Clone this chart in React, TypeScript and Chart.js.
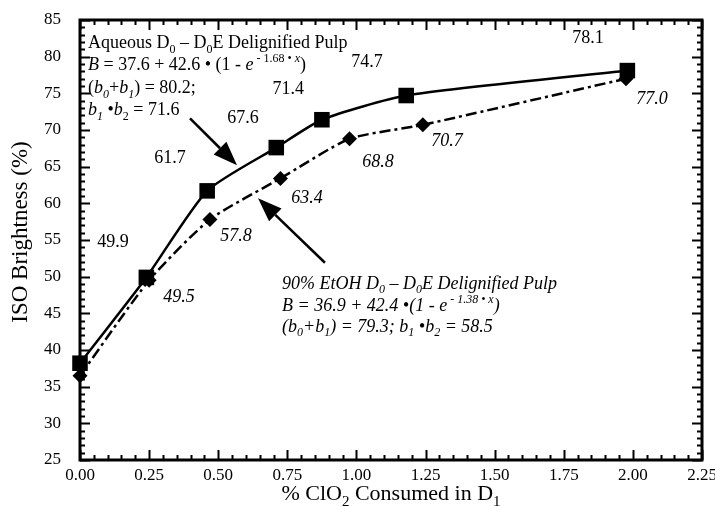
import React, { useEffect, useRef } from 'react';
import { Chart, registerables } from 'chart.js';

Chart.register(...registerables);

// ---------- data ----------
const aqueousX = [0, 0.24, 0.46, 0.71, 0.875, 1.18, 1.98];
const aqueousY = [38.2, 49.9, 61.7, 67.6, 71.4, 74.7, 78.1];
const etohX = [0, 0.25, 0.47, 0.725, 0.975, 1.24, 1.975];
const etohY = [36.5, 49.5, 57.8, 63.4, 68.8, 70.7, 77.0];

const xTickValues = [0, 0.25, 0.5, 0.75, 1.0, 1.25, 1.5, 1.75, 2.0, 2.25];
const yTickValues = [25, 30, 35, 40, 45, 50, 55, 60, 65, 70, 75, 80, 85];

// value-label anchor positions (data coords) for points 1..6
const aqueousLabelX = [0.119, 0.326, 0.59, 0.753, 1.038, 1.838];
const aqueousLabelY = [54.7, 66.2, 71.6, 75.5, 79.3, 82.5];
const etohLabelX = [0.358, 0.564, 0.821, 1.078, 1.328, 2.069];
const etohLabelY = [47.2, 55.5, 60.7, 65.6, 68.4, 74.2];

const FONT = '"Liberation Serif", "Times New Roman", serif';

type Seg = [string, string]; // [text, flags]  i=italic s=subscript u=superscript

const block1: Seg[][] = [
  [['Aqueous D', ''], ['0', 's'], [' – D', ''], ['0', 's'], ['E Delignified Pulp', '']],
  [['B', 'i'], [' = 37.6 + 42.6 • (1 - ', ''], ['e', 'i'], [' - 1.68 • ', 'u'], ['x', 'iu'], [')', '']],
  [['(', ''], ['b', 'i'], ['0', 'is'], ['+', ''], ['b', 'i'], ['1', 'is'], [') = 80.2;', '']],
  [['b', 'i'], ['1', 'is'], [' •', ''], ['b', 'i'], ['2', 's'], [' = 71.6', '']],
];
const block2: Seg[][] = [
  [['90% EtOH D', 'i'], ['0', 'is'], [' – D', 'i'], ['0', 'is'], ['E Delignified Pulp', 'i']],
  [['B = 36.9 + 42.4 •(1 - e', 'i'], [' - 1.38 • x', 'iu'], [')', 'i']],
  [['(b', 'i'], ['0', 'is'], ['+b', 'i'], ['1', 'is'], [') = 79.3; b', 'i'], ['1', 'is'], [' •b', 'i'], ['2', 'is'], [' = 58.5', 'i']],
];
const block1Pos = { x: 0.029, y: 81.18, lines: [0, 22, 45, 67] };
const block2Pos = { x: 0.731, y: 48.32, lines: [0, 22, 43] };

// arrows [fromX, fromY, toX, toY] in data coords
const arrows = [
  [0.398, 71.6, 0.568, 65.2],
  [0.886, 51.9, 0.644, 60.7],
];

function segFont(flags: string, size: number) {
  const sz = flags.includes('s') || flags.includes('u') ? Math.round(size * 0.68) : size;
  return `${flags.includes('i') ? 'italic ' : ''}${sz}px ${FONT}`;
}

function richWidth(ctx: CanvasRenderingContext2D, segs: Seg[], size: number) {
  let w = 0;
  for (const [t, f] of segs) {
    ctx.font = segFont(f, size);
    w += ctx.measureText(t).width;
  }
  return w;
}

function drawRich(ctx: CanvasRenderingContext2D, segs: Seg[], x: number, y: number, size: number) {
  let cx = x;
  ctx.textAlign = 'left';
  ctx.textBaseline = 'alphabetic';
  for (const [t, f] of segs) {
    ctx.font = segFont(f, size);
    let dy = 0;
    if (f.includes('s')) dy = size * 0.25;
    if (f.includes('u')) dy = -size * 0.42;
    ctx.fillText(t, cx, y + dy);
    cx += ctx.measureText(t).width;
  }
}

const decorPlugin = {
  id: 'decor',
  afterDraw(chart: any) {
    const { ctx, chartArea: a, scales } = chart;
    const xs = scales.x;
    const ys = scales.y;
    ctx.save();
    ctx.fillStyle = '#000';
    ctx.strokeStyle = '#000';

    // frame
    ctx.lineWidth = 3;
    ctx.strokeRect(a.left, a.top, a.right - a.left, a.bottom - a.top);

    // inward ticks
    ctx.lineWidth = 2;
    ctx.beginPath();
    for (let i = 0; i <= 45; i++) {
      const v = i * 0.05;
      const px = Math.round(xs.getPixelForValue(v)) + 0.5;
      const len = i % 5 === 0 ? 10 : 5;
      ctx.moveTo(px, a.bottom);
      ctx.lineTo(px, a.bottom - len);
      ctx.moveTo(px, a.top);
      ctx.lineTo(px, a.top + len);
    }
    for (let v = 25; v <= 85; v++) {
      const py = Math.round(ys.getPixelForValue(v)) + 0.5;
      const len = v % 5 === 0 ? 10 : 5;
      ctx.moveTo(a.left, py);
      ctx.lineTo(a.left + len, py);
      ctx.moveTo(a.right, py);
      ctx.lineTo(a.right - len, py);
    }
    ctx.stroke();

    // arrows
    ctx.lineWidth = 2.5;
    for (const [x1, y1, x2, y2] of arrows) {
      const p1x = xs.getPixelForValue(x1), p1y = ys.getPixelForValue(y1);
      const p2x = xs.getPixelForValue(x2), p2y = ys.getPixelForValue(y2);
      const ang = Math.atan2(p2y - p1y, p2x - p1x);
      const hl = 24, hw = 9;
      const bx = p2x - hl * Math.cos(ang), by = p2y - hl * Math.sin(ang);
      ctx.beginPath();
      ctx.moveTo(p1x, p1y);
      ctx.lineTo(bx, by);
      ctx.stroke();
      ctx.beginPath();
      ctx.moveTo(p2x, p2y);
      ctx.lineTo(bx + hw * Math.sin(ang), by - hw * Math.cos(ang));
      ctx.lineTo(bx - hw * Math.sin(ang), by + hw * Math.cos(ang));
      ctx.closePath();
      ctx.fill();
    }

    // equation blocks
    const size = 18;
    const b1x = xs.getPixelForValue(block1Pos.x), b1y = ys.getPixelForValue(block1Pos.y);
    block1.forEach((line, i) => drawRich(ctx, line, b1x, b1y + block1Pos.lines[i], size));
    const b2x = xs.getPixelForValue(block2Pos.x), b2y = ys.getPixelForValue(block2Pos.y);
    block2.forEach((line, i) => drawRich(ctx, line, b2x, b2y + block2Pos.lines[i], size));

    // value labels
    ctx.textAlign = 'center';
    ctx.textBaseline = 'middle';
    ctx.font = `${size}px ${FONT}`;
    aqueousLabelX.forEach((lx, i) => {
      ctx.fillText(aqueousY[i + 1].toFixed(1), xs.getPixelForValue(lx), ys.getPixelForValue(aqueousLabelY[i]));
    });
    ctx.font = `italic ${size}px ${FONT}`;
    etohLabelX.forEach((lx, i) => {
      ctx.fillText(etohY[i + 1].toFixed(1), xs.getPixelForValue(lx), ys.getPixelForValue(etohLabelY[i]));
    });

    // axis titles
    const tsize = 22;
    const xTitle: Seg[] = [['% ClO', ''], ['2', 's'], [' Consumed in D', ''], ['1', 's']];
    const w = richWidth(ctx, xTitle, tsize);
    drawRich(ctx, xTitle, (a.left + a.right) / 2 - w / 2, chart.height - 6, tsize);

    ctx.save();
    ctx.translate(27, (a.top + a.bottom) / 2 - 8);
    ctx.rotate(-Math.PI / 2);
    ctx.textAlign = 'center';
    ctx.textBaseline = 'alphabetic';
    ctx.font = `23px ${FONT}`;
    ctx.fillText('ISO Brightness (%)', 0, 0);
    ctx.restore();

    ctx.restore();
  },
};

export default function App() {
  const ref = useRef<HTMLCanvasElement>(null);
  useEffect(() => {
    document.body.style.margin = '0';
    const canvas = ref.current;
    if (!canvas) return;
    const chart = new Chart(canvas, {
      type: 'line',
      data: {
        datasets: [
          {
            label: 'Aqueous D0 – D0E Delignified Pulp',
            data: aqueousX.map((x, i) => ({ x, y: aqueousY[i] })),
            borderColor: '#000',
            backgroundColor: '#000',
            borderWidth: 2.5,
            pointStyle: 'rect',
            pointRadius: 11,
            pointBorderWidth: 0,
            tension: 0.2,
            clip: false as any,
          },
          {
            label: '90% EtOH D0 – D0E Delignified Pulp',
            data: etohX.map((x, i) => ({ x, y: etohY[i] })),
            borderColor: '#000',
            backgroundColor: '#000',
            borderWidth: 2.5,
            borderDash: [11, 4, 3, 4],
            pointStyle: 'rectRot',
            pointRadius: 7.5,
            pointBorderWidth: 0,
            tension: 0.2,
            clip: false as any,
          },
        ],
      },
      options: {
        animation: false,
        responsive: true,
        maintainAspectRatio: false,
        layout: { padding: { top: 20, right: 13, left: 0, bottom: 0 } },
        plugins: { legend: { display: false }, tooltip: { enabled: false } },
        scales: {
          x: {
            type: 'linear',
            min: 0,
            max: 2.25,
            afterBuildTicks: (s: any) => {
              s.ticks = xTickValues.map((v) => ({ value: v }));
            },
            afterFit: (s: any) => {
              s.height = 46;
              s.paddingLeft = 0;
              s.paddingRight = 0;
            },
            grid: { display: false, drawTicks: false },
            border: { display: false },
            ticks: {
              color: '#000',
              font: { family: FONT, size: 17 },
              padding: 5,
              maxRotation: 0,
              autoSkip: false,
              callback: (v: any) => Number(v).toFixed(2),
            },
          },
          y: {
            type: 'linear',
            min: 25,
            max: 85,
            afterBuildTicks: (s: any) => {
              s.ticks = yTickValues.map((v) => ({ value: v }));
            },
            afterFit: (s: any) => {
              s.width = 80;
              s.paddingTop = 0;
              s.paddingBottom = 0;
            },
            grid: { display: false, drawTicks: false },
            border: { display: false },
            ticks: {
              color: '#000',
              font: { family: FONT, size: 17 },
              padding: 19,
              autoSkip: false,
              callback: (v: any) => String(v),
            },
          },
        },
      },
      plugins: [decorPlugin],
    });
    return () => chart.destroy();
  }, []);
  return (
    <div style={{ position: 'relative', width: 715, height: 506 }}>
      <canvas ref={ref} />
    </div>
  );
}
